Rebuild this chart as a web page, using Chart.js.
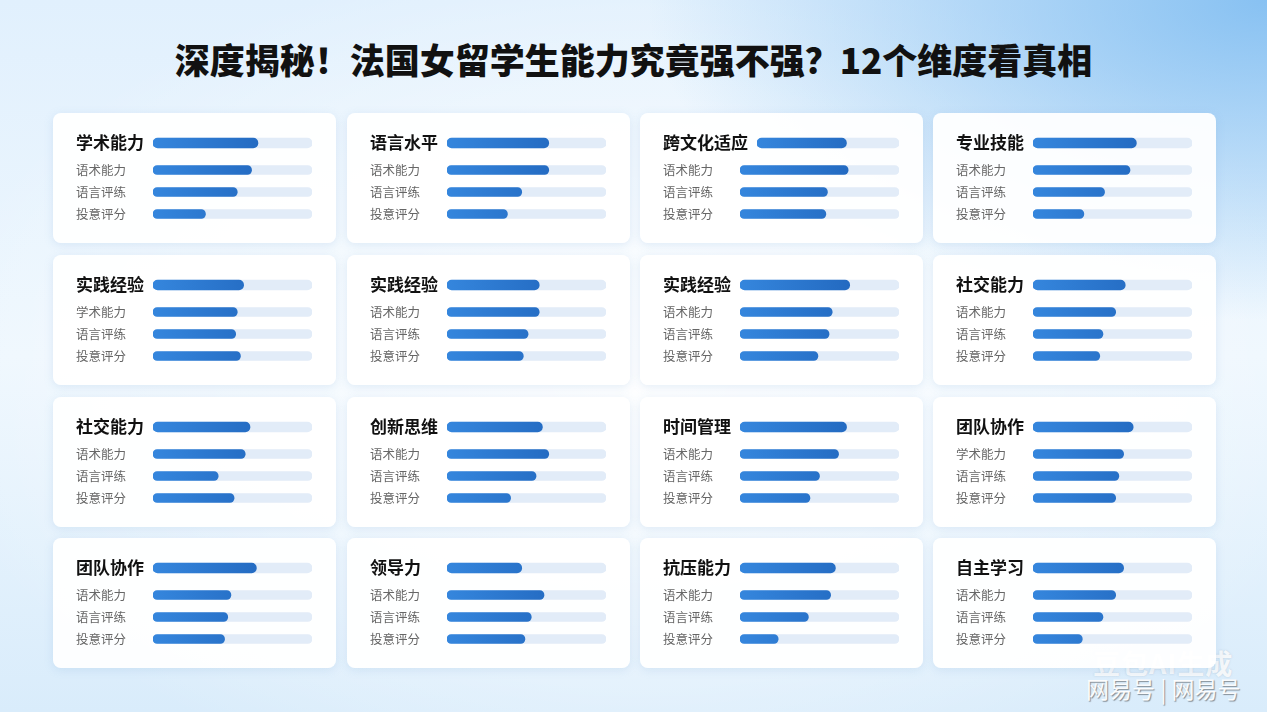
<!DOCTYPE html>
<html lang="zh">
<head>
<meta charset="utf-8">
<script src="https://cdn.jsdelivr.net/npm/chart.js@4.4.1/dist/chart.umd.min.js"></script>
<style>
  html, body { margin: 0; padding: 0; }
  body {
    width: 1267px; height: 712px; overflow: hidden; position: relative;
    font-family: "Noto Sans CJK SC", "Noto Sans", sans-serif;
    background:
      radial-gradient(ellipse 620px 320px at 1267px 0px, rgba(120,185,240,0.85), rgba(120,185,240,0) 100%),
      radial-gradient(ellipse 720px 430px at 640px 380px, rgba(255,255,255,0.95), rgba(255,255,255,0) 100%),
      linear-gradient(180deg, #e1f0fd 0%, #eef7fe 50%, #d9ecfb 100%);
  }
  h1 {
    position: absolute; top: 40px; left: 0; width: 100%; margin: 0;
    text-align: center; font-size: 35px; line-height: 38px; font-weight: 900; color: #111;
  }
  .card {
    position: absolute; width: 283px; height: 130px;
    background: rgba(255,255,255,0.94); border-radius: 8px;
    box-shadow: 0 2px 10px rgba(110,160,210,0.18);
  }
  .card canvas { position: absolute; left: 23px; }
  .wm1 {
    position: absolute; left: 1093px; top: 643px; font-size: 27px; font-weight: 700;
    color: rgba(255,255,255,0.85); letter-spacing: 1px;
    text-shadow: 0 0 2px rgba(120,140,160,0.35);
  }
  .wm2 {
    position: absolute; left: 1086px; top: 671px; font-size: 23px;
    color: rgba(255,255,255,0.95); text-shadow: 1px 1px 1px rgba(0,0,0,0.4);
  }
</style>
</head>
<body>
<h1>深度揭秘！法国女留学生能力究竟强不强？12个维度看真相</h1>
<div class="wm1">豆包AI生成</div>
<div class="wm2">网易号 | 网易号</div>
<script>
// card titles (row by row)
const titles = ['学术能力', '语言水平', '跨文化适应', '专业技能',
                '实践经验', '实践经验', '实践经验', '社交能力',
                '社交能力', '创新思维', '时间管理', '团队协作',
                '团队协作', '领导力', '抗压能力', '自主学习'];
// first sub label differs on two cards
const subLabelA = ['语术能力', '语术能力', '语术能力', '语术能力',
                   '学术能力', '语术能力', '语术能力', '语术能力',
                   '语术能力', '语术能力', '语术能力', '学术能力',
                   '语术能力', '语术能力', '语术能力', '语术能力'];
const subLabelB = '语言评练';
const subLabelC = '投意评分';

// scores, 0-100
const mainScores = [66, 64, 63, 65, 57, 58, 69, 58, 61, 60, 67, 63, 65, 47, 60, 57];
const subScoresA = [62, 64, 68, 61, 53, 58, 58, 52, 58, 64, 62, 57, 49, 61, 57, 52];
const subScoresB = [53, 47, 55, 45, 52, 51, 56, 44, 41, 56, 50, 54, 47, 53, 43, 44];
const subScoresC = [33, 38, 54, 32, 55, 48, 49, 42, 51, 40, 44, 52, 45, 49, 24, 31];
const trackMax = 100;

const cardX = [53, 347, 640, 933];
const cardY = [113, 255, 397, 538];

function barFill(ctx) {
    const a = ctx.chart.chartArea;
    if (!a) return '#2a74cf';
    const g = ctx.chart.ctx.createLinearGradient(a.left, 0, a.right, 0);
    g.addColorStop(0, '#3586dd');
    g.addColorStop(1, '#1b5db4');
    return g;
}

function makeChart(canvas, labels, values, isTitle) {
    const thickness = isTitle ? 10 : 9;
    const pad = isTitle ? 10 : 8;
    return new Chart(canvas, {
        type: 'bar',
        data: {
            labels: labels,
            datasets: [{
                data: values,
                backgroundColor: barFill,
                barThickness: thickness,
                borderRadius: 5,
                borderSkipped: false,
                grouped: false,
                order: 0
            }, {
                data: values.map(() => trackMax),
                backgroundColor: '#e2ecf8',
                barThickness: thickness,
                borderRadius: 5,
                borderSkipped: false,
                grouped: false,
                order: 1
            }]
        },
        options: {
            indexAxis: 'y',
            responsive: false,
            animation: false,
            devicePixelRatio: 1,
            events: [],
            layout: { padding: { top: pad, bottom: pad, left: 0, right: 0 } },
            plugins: { legend: { display: false }, tooltip: { enabled: false } },
            scales: {
                x: { min: 0, max: trackMax, display: false },
                y: {
                    grid: { display: false },
                    border: { display: false },
                    ticks: {
                        crossAlign: 'far',
                        padding: 0,
                        color: isTitle ? '#111' : '#666',
                        font: isTitle
                            ? { family: '"Noto Sans CJK SC"', size: 17, weight: 'bold', lineHeight: 1 }
                            : { family: '"Noto Sans CJK SC"', size: 12.5, lineHeight: 1 }
                    },
                    afterFit(scale) {
                        scale.width = isTitle ? Math.max(77, scale.width + 1) : 77;
                    }
                }
            }
        }
    });
}

titles.forEach((title, i) => {
    const card = document.createElement('div');
    card.className = 'card';
    card.style.left = cardX[i % 4] + 'px';
    card.style.top = cardY[Math.floor(i / 4)] + 'px';
    document.body.appendChild(card);

    // title row: bar centred 30px below card top
    const top = document.createElement('canvas');
    top.width = 236; top.height = 40;
    top.style.top = '10px';
    card.appendChild(top);

    // three sub rows centred at 57, 79, 101
    const sub = document.createElement('canvas');
    sub.width = 236; sub.height = 82;
    sub.style.top = '38px';
    card.appendChild(sub);

    makeChart(top, [title], [mainScores[i]], true);
    makeChart(sub, [subLabelA[i], subLabelB, subLabelC],
              [subScoresA[i], subScoresB[i], subScoresC[i]], false);
});
</script>
</body>
</html>
